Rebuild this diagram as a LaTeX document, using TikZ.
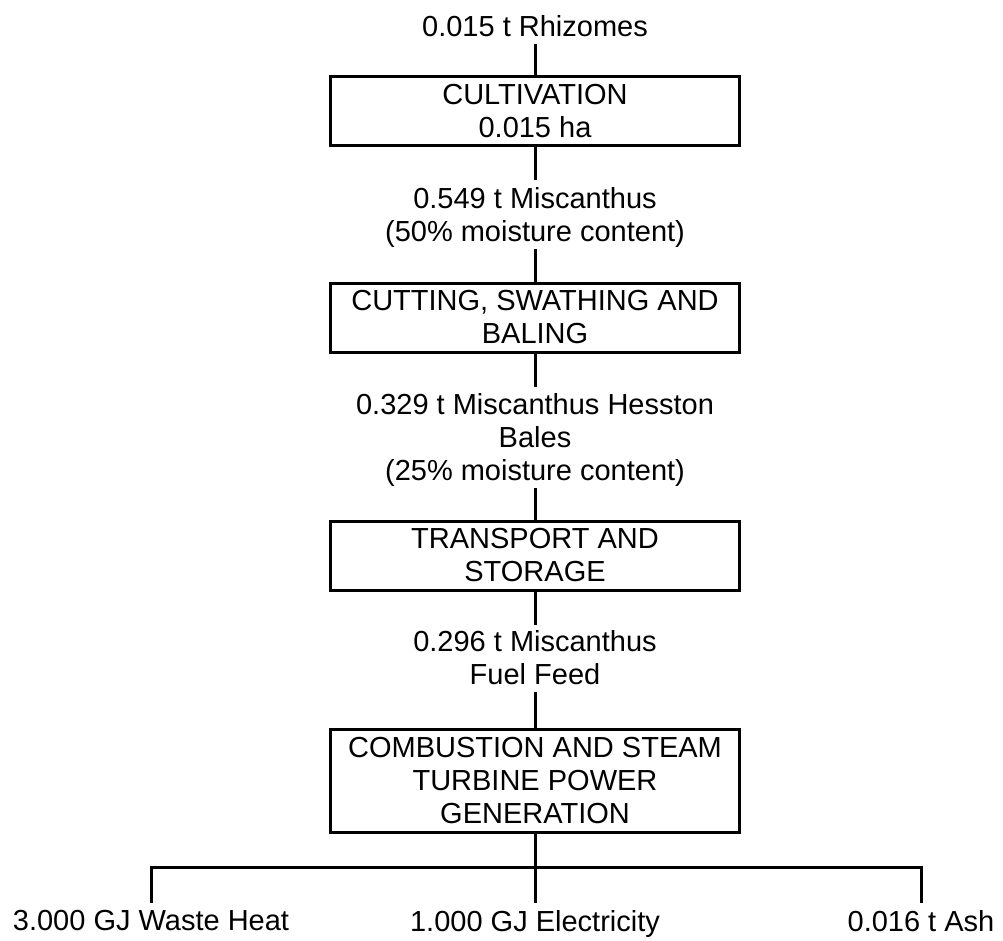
\documentclass[tikz,border=0pt]{standalone}
\usepackage{fontspec}
\setmainfont{Liberation Sans}
% fixed depth under the last line of a flow label
\newcommand{\lastdepth}{\rule[-8pt]{0pt}{1pt}}
\begin{document}
\begin{tikzpicture}[x=1pt,y=-1pt,
  every node/.style={font=\fontsize{29}{33}\selectfont, align=center, inner sep=0pt},
  stage/.style={draw, line width=3pt, minimum width=409pt},
  flow/.style={anchor=north},
  link/.style={line width=3pt}]
\useasboundingbox (0,0) rectangle (1003,941);

% process stages and the material flows between them
\node[flow] (rhiz) at (535,15) {0.015 t Rhizomes\lastdepth};
\node[stage, minimum height=69pt] (cult) at (535,111.5) {CULTIVATION\\0.015 ha};
\node[flow] (misc) at (535,187) {0.549 t Miscanthus\\(50\% moisture content)\lastdepth};
\node[stage, minimum height=69pt] (cut) at (535,317.5) {CUTTING, SWATHING AND\\BALING};
\node[flow] (bales) at (535,393) {0.329 t Miscanthus Hesston\\Bales\\(25\% moisture content)\lastdepth};
\node[stage, minimum height=69pt] (trans) at (535,555.5) {TRANSPORT AND\\STORAGE};
\node[flow] (feed) at (535,630) {0.296 t Miscanthus\\Fuel Feed\lastdepth};
\node[stage, minimum height=103pt] (comb) at (535,780.5) {COMBUSTION AND STEAM\\TURBINE POWER\\GENERATION};

% outputs
\node[flow] (heat) at (151,910) {3.000 GJ Waste Heat};
\node[flow] (elec) at (535,910) {1.000 GJ Electricity};
\node[flow] (ash) at (921,910) {0.016 t Ash};
\coordinate (split) at (535,867);

% connectors
\draw[link] (rhiz.south) -- (cult.north);
\draw[link, shorten >=7pt] (cult.south) -- (misc.north);
\draw[link] (misc.south) -- (cut.north);
\draw[link, shorten >=6pt] (cut.south) -- (bales.north);
\draw[link] (bales.south) -- (trans.north);
\draw[link, shorten >=5pt] (trans.south) -- (feed.north);
\draw[link] (feed.south) -- (comb.north);
\draw[link] (comb.south) -- (split);
\draw[link, shorten <=7pt, shorten >=7pt] (heat.north) |- (split) -| (ash.north);
\draw[link, shorten <=7pt] (elec.north) -- (split);
\end{tikzpicture}
\end{document}
